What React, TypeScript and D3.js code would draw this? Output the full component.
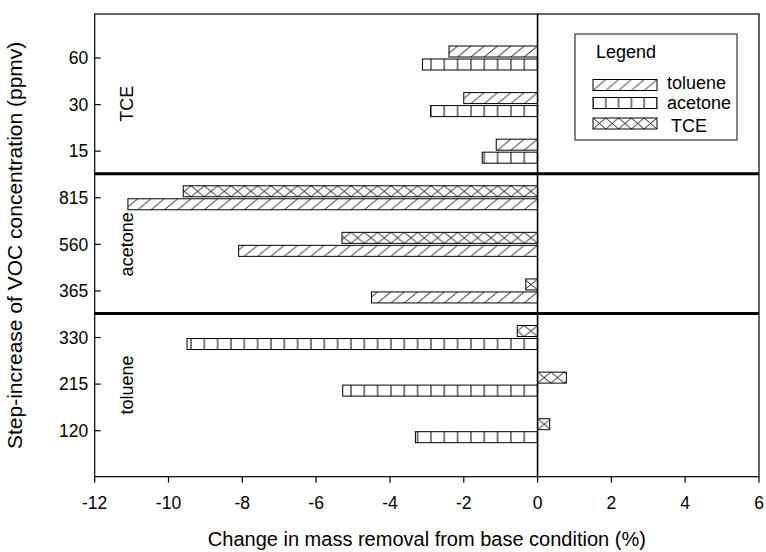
import React from "react";
import * as d3 from "d3";

// ---- data ----
const categories = ["120", "215", "330", "365", "560", "815", "15", "30", "60"]; // bottom -> top
const tolueneVals: (number | null)[] = [null, null, null, -4.5, -8.1, -11.1, -1.12, -2.0, -2.4];
const acetoneVals: (number | null)[] = [-3.31, -5.28, -9.5, null, null, null, -1.5, -2.9, -3.12];
const tceVals: (number | null)[] = [0.33, 0.78, -0.55, -0.32, -5.3, -9.6, null, null, null];
const xTicks = [-12, -10, -8, -6, -4, -2, 0, 2, 4, 6];
const groupLabels = ["toluene", "acetone", "TCE"];
const groupCenters = [1.98, 5, 8.02];
const separators = [3.5, 6.5];
const legendNames = ["toluene", "acetone", "TCE"];

const W = 766;
const H = 552;
const L = 94.7, R = 759, T = 14, B = 476.7;
const FONT = "'Liberation Sans', Arial, Helvetica, sans-serif";

type Kind = "toluene" | "acetone" | "TCE";
// top-to-bottom priority within a category
const seriesOrder: { name: Kind; vals: (number | null)[] }[] = [
  { name: "TCE", vals: tceVals },
  { name: "toluene", vals: tolueneVals },
  { name: "acetone", vals: acetoneVals },
];

function patternContent(kind: Kind, w: number, h: number) {
  if (kind === "toluene")
    return <path d={`M0,${h} L${w},0 M${-w},${h} L0,0 M${w},${h} L${2 * w},0`} stroke="#000" strokeWidth={0.9} fill="none" />;
  if (kind === "acetone") return <path d={`M0,0 V${h} M${w},0 V${h}`} stroke="#000" strokeWidth={1} fill="none" />;
  return <path d={`M0,0 L${w},${h} M${w},0 L0,${h}`} stroke="#000" strokeWidth={0.9} fill="none" />;
}

export default function App() {
  const x = d3.scaleLinear().domain([-12, 6]).range([L, R]);
  const y = d3.scaleLinear().domain([1, 9]).range([430.7, 58]);
  const barH = 11;
  const cell = 13.33;

  const bars: { id: string; kind: Kind; v: number; top: number }[] = [];
  categories.forEach((c, i) => {
    const present = seriesOrder.filter((s) => s.vals[i] != null);
    present.forEach((s, j) => {
      const cy = y(i + 1);
      bars.push({ id: `b${i}_${j}`, kind: s.name, v: s.vals[i] as number, top: j === 0 ? cy - 12 : cy + 1 });
    });
  });

  const legX = 593, legW = 64;
  const legTops = [79.5, 97.5, 118];
  const legTextY = [83, 103, 126];

  return (
    <svg width={W} height={H} style={{ position: "absolute", left: 0, top: 0, background: "#fff" }} fontFamily={FONT}>
      <defs>
        {bars.map((b) => (
          <pattern key={b.id} id={b.id} patternUnits="userSpaceOnUse" x={x(0)} y={b.top} width={cell} height={barH}>
            {patternContent(b.kind, cell, barH)}
          </pattern>
        ))}
        {legendNames.map((n, i) => (
          <pattern key={n} id={`leg${i}`} patternUnits="userSpaceOnUse" x={legX} y={legTops[i]} width={legW / 5} height={barH}>
            {patternContent(n as Kind, legW / 5, barH)}
          </pattern>
        ))}
      </defs>
      <rect x={0} y={0} width={W} height={H} fill="#fff" />

      {/* bars */}
      {bars.map((b) => (
        <rect
          key={b.id}
          x={x(Math.min(0, b.v))}
          y={b.top}
          width={Math.abs(x(b.v) - x(0))}
          height={barH}
          fill={`url(#${b.id})`}
          stroke="#000"
          strokeWidth={1}
        />
      ))}

      {/* frame */}
      <rect x={L} y={T} width={R - L} height={B - T} fill="none" stroke="#000" strokeWidth={1.2} />
      {/* zero line */}
      <line x1={x(0)} x2={x(0)} y1={T} y2={B} stroke="#000" strokeWidth={1.6} />
      {/* separators */}
      {separators.map((s) => (
        <line key={s} x1={L} x2={R} y1={y(s) - 0.8} y2={y(s) - 0.8} stroke="#000" strokeWidth={3} />
      ))}

      {/* y ticks */}
      {categories.map((c, i) => (
        <g key={c}>
          <line x1={L} x2={L + 6} y1={y(i + 1)} y2={y(i + 1)} stroke="#000" strokeWidth={1.2} />
          <text x={L - 6.5} y={y(i + 1)} dy="0.36em" textAnchor="end" fontSize={17.5} fill="#000">
            {c}
          </text>
        </g>
      ))}

      {/* x ticks */}
      {xTicks.map((t) => (
        <g key={t}>
          <line x1={x(t)} x2={x(t)} y1={B} y2={B + 6} stroke="#000" strokeWidth={1.2} />
          <text x={x(t)} y={509} textAnchor="middle" fontSize={17.5} fill="#000">
            {t}
          </text>
        </g>
      ))}

      {/* group labels */}
      {groupLabels.map((g, i) => (
        <text key={g} transform={`translate(133,${y(groupCenters[i])}) rotate(-90)`} textAnchor="middle" fontSize={18} fill="#000">
          {g}
        </text>
      ))}

      {/* axis titles */}
      <text x={(L + R) / 2} y={546} textAnchor="middle" fontSize={20} fill="#000">
        Change in mass removal from base condition (%)
      </text>
      <text transform={`translate(22,${(T + B) / 2}) rotate(-90)`} textAnchor="middle" fontSize={21} fill="#000">
        Step-increase of VOC concentration (ppmv)
      </text>

      {/* legend */}
      <rect x={575} y={34} width={162} height={106} fill="#fff" stroke="#333" strokeWidth={1.2} />
      <text x={596} y={58} fontSize={18} fill="#000">Legend</text>
      {legendNames.map((n, i) => (
        <g key={n}>
          <rect x={legX} y={legTops[i]} width={legW} height={barH} fill={`url(#leg${i})`} stroke="#000" strokeWidth={1} />
          <text x={n === "TCE" ? 671 : 667} y={legTextY[i]} dy="0.36em" fontSize={18} fill="#000">
            {n}
          </text>
        </g>
      ))}
    </svg>
  );
}
